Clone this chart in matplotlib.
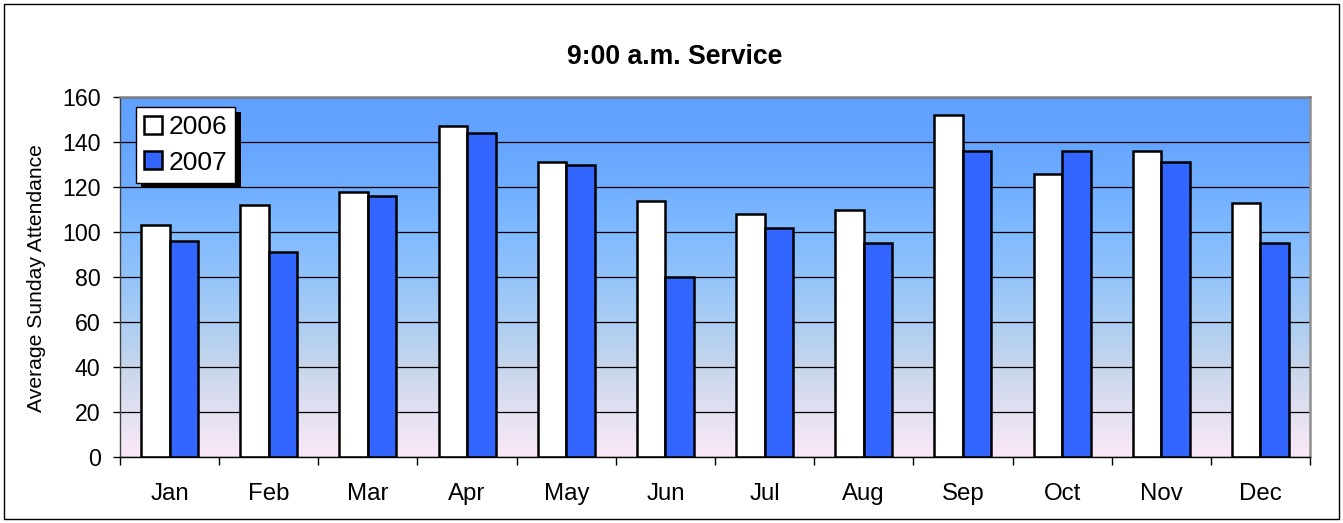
import numpy as np
import matplotlib
matplotlib.use("Agg")
import matplotlib.pyplot as plt
import matplotlib.patheffects as pe
from matplotlib.colors import LinearSegmentedColormap
from matplotlib.patches import Rectangle

plt.rcParams['font.family'] = ['Liberation Sans', 'DejaVu Sans']

months = ['Jan', 'Feb', 'Mar', 'Apr', 'May', 'Jun',
          'Jul', 'Aug', 'Sep', 'Oct', 'Nov', 'Dec']
series_names = ['2006', '2007']
att_2006 = [103, 112, 118, 147, 131, 114, 108, 110, 152, 126, 136, 113]
att_2007 = [96, 91, 116, 144, 130, 80, 102, 95, 136, 136, 131, 95]
yticks = [0, 20, 40, 60, 80, 100, 120, 140, 160]

W, H = 1343, 523
fig = plt.figure(figsize=(W / 100, H / 100), dpi=100)
# plot area in pixels: x 120..1310, y 97..457
ax = fig.add_axes([120 / W, (H - 457) / H, 1190 / W, 360 / H])

# gradient background of the plot area
bg = LinearSegmentedColormap.from_list('bg', [
    (0.0, '#FBE9F7'), (0.125, '#E2E0F2'), (0.25, '#C7D6EC'),
    (0.375, '#ABCDF2'), (0.5, '#93C3FA'), (0.625, '#80BAFF'),
    (0.75, '#70AEFF'), (0.875, '#65A5FF'), (1.0, '#60A0FF')])
grad = np.linspace(0, 1, 256).reshape(-1, 1)
ax.imshow(grad, cmap=bg, origin='lower', aspect='auto',
          extent=[0, 1, 0, 1], transform=ax.transAxes, zorder=0)

x = np.arange(len(months))
width = 0.287
ax.bar(x - width / 2, att_2006, width, color='white',
       edgecolor='black', linewidth=1.8, zorder=3, label=series_names[0])
ax.bar(x + width / 2, att_2007, width, color='#3366FF',
       edgecolor='black', linewidth=1.8, zorder=3, label=series_names[1])

ax.set_xlim(-0.5, len(months) - 0.5)
ax.set_ylim(0, 160)
ax.set_yticks(yticks)
ax.yaxis.grid(True, color='black', linewidth=0.9)
for gl in ax.get_ygridlines():
    gl.set_zorder(1)

# major ticks at category boundaries, labels at centers
ax.set_xticks(np.arange(len(months) + 1) - 0.5)
ax.set_xticklabels([])
ax.set_xticks(x, minor=True)
ax.set_xticklabels(months, minor=True)
ax.tick_params(axis='x', which='major', length=6, width=1, direction='out')
ax.tick_params(axis='x', which='minor', length=0, pad=18.5, labelsize=17.3)
ax.tick_params(axis='y', length=5, width=1, direction='out', pad=9,
               labelsize=16.7)

ax.spines['top'].set_color('#808080')
ax.spines['top'].set_linewidth(1.8)
ax.spines['right'].set_color('#909090')
ax.spines['right'].set_linewidth(1.8)
ax.spines['left'].set_color('#404040')
ax.spines['left'].set_linewidth(1)
ax.spines['bottom'].set_color('black')
ax.spines['bottom'].set_linewidth(1)
for s in ax.spines.values():
    s.set_zorder(4)

leg = ax.legend(loc='upper left', bbox_to_anchor=(16 / 1190, 350 / 360),
                borderaxespad=0, fontsize=19, fancybox=False,
                framealpha=1, edgecolor='black', handlelength=0.68,
                handleheight=0.68, handletextpad=0.22, labelspacing=0.42,
                borderpad=0.32)
leg.get_frame().set_linewidth(1)
leg.get_frame().set_path_effects([
    pe.SimplePatchShadow(offset=(3.8, -3.8), shadow_rgbFace='black', alpha=1),
    pe.Normal()])
leg.set_zorder(6)
for h in leg.legend_handles:
    h.set_linewidth(1.8)

fig.text(675 / W, (H - 64) / H, '9:00 a.m. Service', ha='center',
         va='baseline', fontsize=19.2, fontweight='bold')
fig.text(37 / W, (H - 278) / H, 'Average Sunday Attendance', rotation=90,
         ha='center', va='center', fontsize=15.2)

# outer chart border
fig.patches.append(Rectangle((4 / W, 4 / H), (W - 8) / W, (H - 8) / H,
                             transform=fig.transFigure, fill=False,
                             edgecolor='black', linewidth=1))

fig.savefig('out.png', dpi=100)
